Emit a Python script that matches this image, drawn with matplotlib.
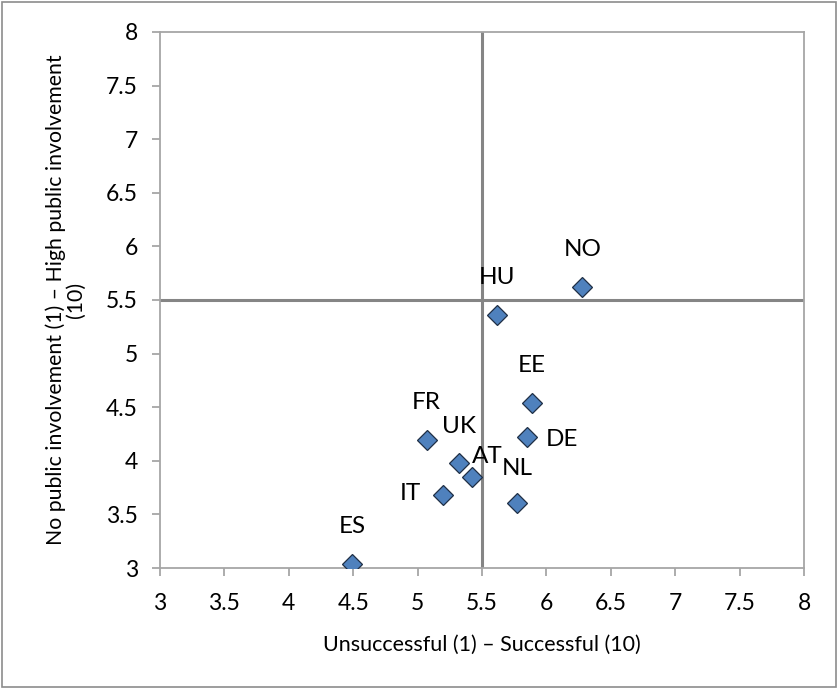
import matplotlib
matplotlib.use('Agg')
import matplotlib.pyplot as plt
from matplotlib.patches import Rectangle

plt.rcParams['font.family'] = ['Lato', 'DejaVu Sans']

# country scores: success (x) vs public involvement (y)
countries = ['NO', 'HU', 'EE', 'DE', 'FR', 'UK', 'AT', 'IT', 'NL', 'ES']
success = [6.28, 5.62, 5.89, 5.85, 5.07, 5.32, 5.42, 5.20, 5.77, 4.49]
involvement = [5.62, 5.36, 4.54, 4.22, 4.19, 3.98, 3.85, 3.68, 3.61, 3.04]

# label offsets in points (dx, dy)
label_offsets = {
    'NO': (0, 27), 'HU': (0, 27), 'EE': (0, 27), 'DE': (25, -2),
    'FR': (0, 27), 'UK': (0, 26), 'AT': (11, 14.5), 'IT': (-24, 1),
    'NL': (0, 24.5), 'ES': (0, 27),
}

fig = plt.figure(figsize=(8.39, 6.89), dpi=100)
ax = fig.add_axes([0.1907, 0.1756, 0.7676, 0.778])

# outer chart border
fig.patches.append(Rectangle((0.002, 0.003), 0.995, 0.994, transform=fig.transFigure,
                             fill=False, edgecolor='#8c8c8c', linewidth=1.2))

ax.axvline(5.5, color='#858585', linewidth=2.2, zorder=1)
ax.axhline(5.5, color='#858585', linewidth=2.2, zorder=1)

ax.plot(success, involvement, linestyle='none', marker='D', markersize=10,
        markerfacecolor='#4F81BD', markeredgecolor='#1f2f45', markeredgewidth=0.9, zorder=3)

for c, x, y in zip(countries, success, involvement):
    dx, dy = label_offsets[c]
    ax.annotate(c, (x, y), xytext=(dx, dy), textcoords='offset points',
                ha='center', va='center', fontsize=17.5, color='black')

ax.set_xlim(3, 8)
ax.set_ylim(3, 8)
ticks = [3, 3.5, 4, 4.5, 5, 5.5, 6, 6.5, 7, 7.5, 8]
tick_labels = ['3', '3.5', '4', '4.5', '5', '5.5', '6', '6.5', '7', '7.5', '8']
ax.set_xticks(ticks)
ax.set_xticklabels(tick_labels)
ax.set_yticks(ticks)
ax.set_yticklabels(tick_labels)

for s in ax.spines.values():
    s.set_color('#a6a6a6')
    s.set_linewidth(1.3)
ax.tick_params(axis='both', direction='out', length=6, width=1.3, color='#a6a6a6',
               labelsize=16.5)
ax.tick_params(axis='x', pad=12)
ax.tick_params(axis='y', pad=10)

ax.set_xlabel('Unsuccessful (1) \u2013 Successful (10)', fontsize=15.5, labelpad=15)
ax.set_ylabel('No public involvement (1) \u2013 High public involvement\n(10)',
              fontsize=15.3, labelpad=14, linespacing=1.05)

fig.savefig('out.png', dpi=100)
